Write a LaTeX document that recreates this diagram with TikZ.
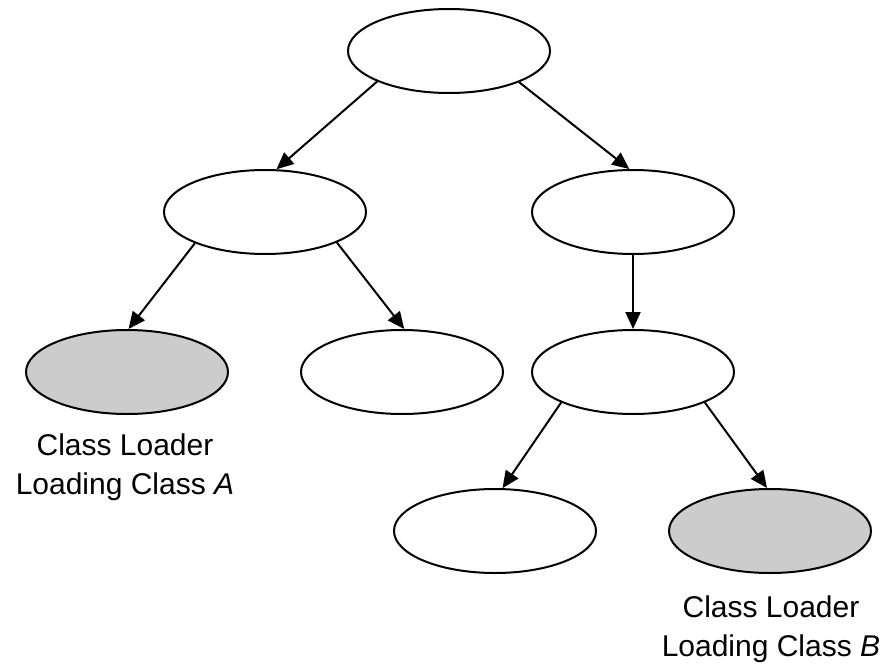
\documentclass[tikz,border=0pt]{standalone}
\usepackage{fontspec}
\setmainfont{Liberation Sans}
\usetikzlibrary{shapes.geometric,arrows.meta}
\begin{document}
\begin{tikzpicture}[x=1pt,y=-1pt,
  oval/.style={ellipse,draw=black,line width=2pt,minimum width=202pt,minimum height=84pt,inner sep=0pt,fill=white},
  shaded/.style={oval,fill=gray!40},
  link/.style={line width=2pt,-{Triangle[length=17pt,width=15pt]}},
  lbl/.style={align=center,inner sep=0pt,font=\fontsize{30}{39}\selectfont}]
\useasboundingbox (0,0) rectangle (888,666);
\node[oval] (top) at (449,51) {};
\node[oval] (ml) at (265,212) {};
\node[oval] (mr) at (633,212) {};
\node[shaded] (la) at (127,372) {};
\node[oval] (mm) at (402,372) {};
\node[oval] (rr) at (633,372) {};
\node[oval] (bl) at (495,531) {};
\node[shaded] (lb) at (770,531) {};
\node[lbl] (ta) at (125,467) {Class Loader\\Loading Class \textit{A}};
\node[lbl] (tb) at (771,629) {Class Loader\\Loading Class \textit{B}};
\draw[link] (top.203) -- (ml.75);
\draw[link] (top.336) -- (mr.95);
\draw[link] (ml.204) -- (la.88);
\draw[link] (ml.337) -- (mm.87);
\draw[link] (mr.south) -- (rr.north);
\draw[link] (rr.203) -- (bl.80);
\draw[link] (rr.337) -- (lb.94);
\end{tikzpicture}
\end{document}
